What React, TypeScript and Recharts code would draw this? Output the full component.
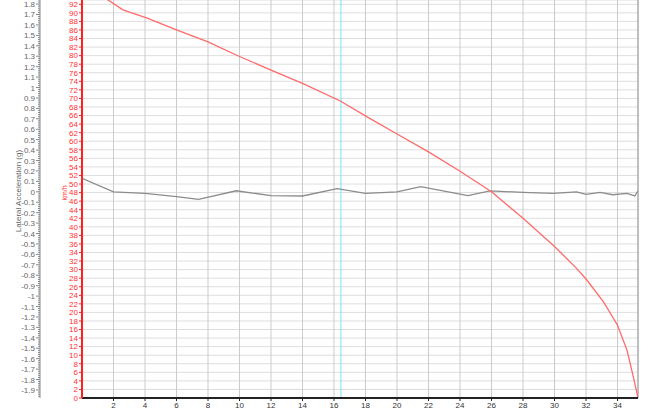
import { CartesianGrid, Line, LineChart, ReferenceLine, XAxis, YAxis } from 'recharts';

// speed trace (km/h) against distance
const speedDist = [1.0, 1.65, 2.6, 4.1, 6.0, 8.0, 10.0, 12.0, 14.0, 16.4, 18.1, 20.0, 22.0, 24.0, 26.0, 28.0, 30.0, 31.4, 32.0, 33.1, 34.0, 34.6, 35.0, 35.3];
const speedKmh = [94.6, 93.0, 90.7, 88.8, 86.0, 83.2, 79.8, 76.6, 73.5, 69.4, 65.7, 61.7, 57.5, 53.0, 48.2, 42.0, 35.4, 30.3, 27.8, 22.5, 17.0, 11.2, 5.0, 0];

// lateral acceleration (g)
const latDist = [0, 2.0, 4.0, 6.0, 7.4, 9.8, 12.0, 14.0, 16.2, 18.0, 20.0, 21.5, 24.5, 25.9, 28.0, 29.9, 31.4, 32.0, 32.9, 33.7, 34.6, 35.1, 35.3];
const latG = [0.13, 0.0, -0.015, -0.047, -0.072, 0.01, -0.037, -0.04, 0.03, -0.015, 0.0, 0.05, -0.037, 0.008, -0.005, -0.015, 0.0, -0.025, -0.005, -0.028, -0.015, -0.04, 0.01];

const xTicks = [2, 4, 6, 8, 10, 12, 14, 16, 18, 20, 22, 24, 26, 28, 30, 32, 34];
const kmhTicks = Array.from({ length: 47 }, (_, i) => i * 2);
const gTicks = Array.from({ length: 191 }, (_, i) => Math.round((-1.96 + i * 0.02) * 100) / 100);

const cursorDist = 16.44;

const speedData = speedDist.map((d, i) => ({ d, v: speedKmh[i] }));
const latData = latDist.map((d, i) => ({ d, g: latG[i] }));

const GTick = (props: any) => {
  const { x, y, payload } = props;
  const v = payload.value;
  const major = Math.abs(Math.round(v * 10) - v * 10) < 0.001;
  return (
    <g>
      <line x1={x - (major ? 4 : 2)} x2={x} y1={y} y2={y} stroke="#888" strokeWidth={1} />
      {major && (
        <text x={x - 5} y={y} dy={3} textAnchor="end" fontSize={8} fill="#666" fontFamily="Arial, 'Liberation Sans', sans-serif">
          {Math.round(v * 10) / 10}
        </text>
      )}
    </g>
  );
};

export default function App() {
  return (
    <div style={{ position: 'absolute', left: 0, top: 0, background: '#fff' }}>
      <LineChart width={648} height={414} margin={{ top: 0, right: 10, bottom: 0, left: 0 }}>
        <CartesianGrid xAxisId="x" yAxisId="kmh" stroke="#dedede" vertical={false} />
        <CartesianGrid xAxisId="x" yAxisId="kmh" stroke="#cbcbcb" horizontal={false} />
        <XAxis
          xAxisId="x"
          dataKey="d"
          type="number"
          domain={[0, 35.3]}
          ticks={xTicks}
          height={16}
          tickSize={3}
          tickMargin={1}
          stroke="#222"
          axisLine={{ stroke: '#222', strokeWidth: 2 }}
          tick={{ fontSize: 8, fill: '#333', fontFamily: 'Arial' }}
          allowDataOverflow
        />
        <YAxis
          yAxisId="kmh"
          type="number"
          domain={[0, 93]}
          ticks={kmhTicks}
          interval={0}
          width={42}
          tickSize={3}
          tickMargin={1}
          axisLine={{ stroke: '#ff2020', strokeWidth: 2 }}
          tickLine={{ stroke: '#ff2020' }}
          tick={{ fontSize: 8, fill: '#ff3030', fontFamily: 'Arial' }}
          allowDataOverflow
          label={{ value: 'km/h', angle: -90, position: 'center', dx: 4, dy: -6, fontSize: 7, fill: '#ff3030', fontFamily: 'Arial' }}
        />
        <YAxis
          yAxisId="lat"
          type="number"
          domain={[-1.977, 1.839]}
          ticks={gTicks}
          interval={0}
          width={40}
          tickSize={0}
          tickMargin={0}
          tickLine={false}
          axisLine={{ stroke: '#888' }}
          tick={<GTick />}
          allowDataOverflow
          label={{ value: 'Lateral Acceleration (g)', angle: -90, position: 'center', dx: -2, dy: -8, fontSize: 8, fill: '#666', fontFamily: 'Arial' }}
        />
        <ReferenceLine xAxisId="x" yAxisId="kmh" x={cursorDist} stroke="#70e4f4" strokeWidth={1} />
        <ReferenceLine xAxisId="x" yAxisId="kmh" x={35.3} stroke="#999" strokeWidth={1} />
        <Line
          xAxisId="x"
          yAxisId="lat"
          data={latData}
          dataKey="g"
          type="linear"
          stroke="#8c8c8c"
          strokeWidth={1.3}
          dot={false}
          isAnimationActive={false}
        />
        <Line
          xAxisId="x"
          yAxisId="kmh"
          data={speedData}
          dataKey="v"
          type="linear"
          stroke="#ff6a6a"
          strokeWidth={1.3}
          dot={false}
          isAnimationActive={false}
        />
      </LineChart>
    </div>
  );
}
